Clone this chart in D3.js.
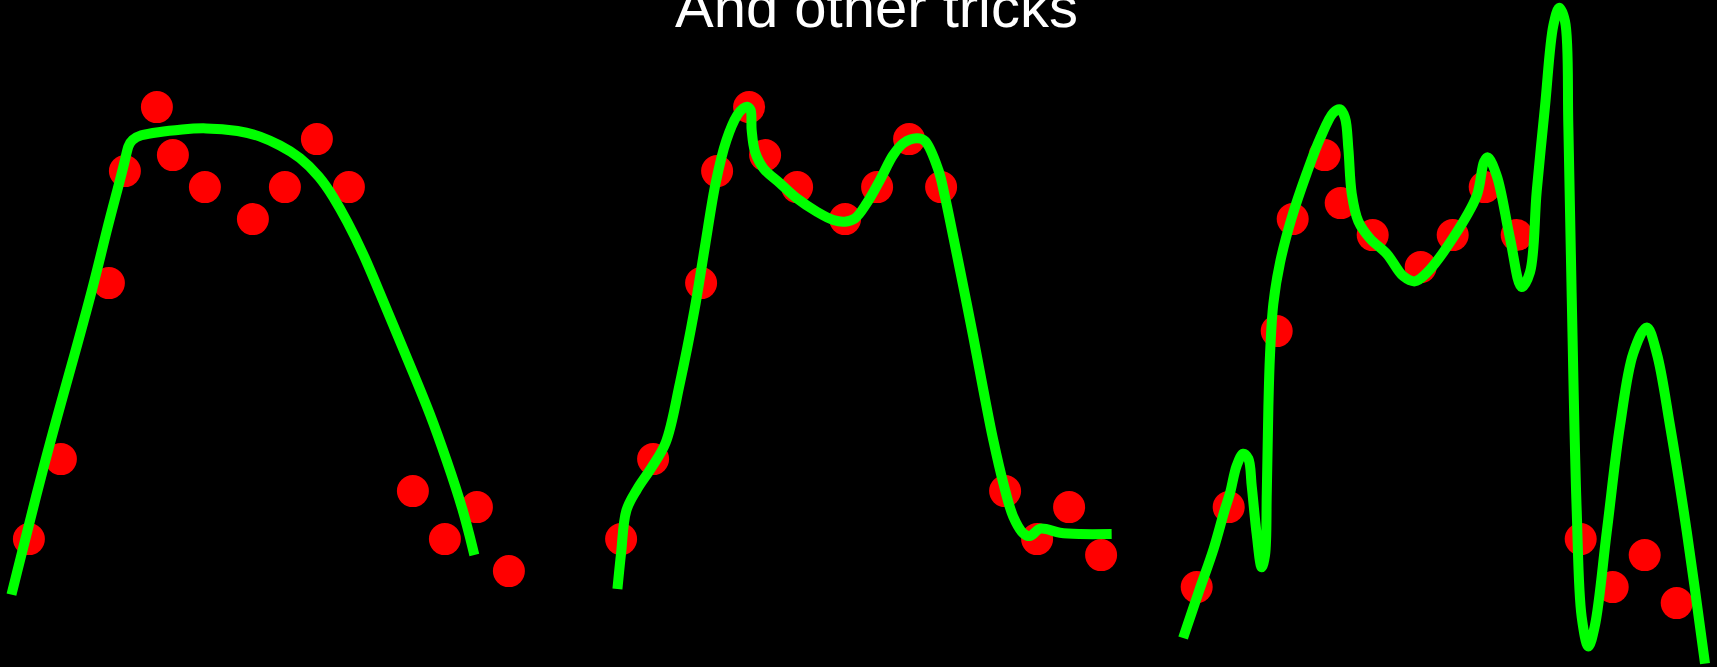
<!DOCTYPE html>
<html>
<head>
<meta charset="utf-8">
<script src="https://cdn.jsdelivr.net/npm/d3@7"></script>
<style>
  html, body { margin: 0; padding: 0; background: #000; overflow: hidden; }
  svg { display: block; }
</style>
</head>
<body>
<svg id="chart" width="1717" height="667"></svg>
<script>
// ---- data ----
const titleText = "And other tricks";

// sample x positions (shared by all three panels)
const pointX = [0, 2, 5, 6, 8, 9, 11, 14, 16, 18, 20, 24, 26, 28, 30];
// sample y values per panel
const panel1Y = [4, 9, 20, 27, 31, 28, 26, 24, 26, 29, 26, 7, 4, 6, 2];
const panel2Y = [4, 9, 20, 27, 31, 28, 26, 24, 26, 29, 26, 7, 4, 6, 3];
const panel3Y = [1, 6, 17, 24, 28, 25, 23, 21, 23, 26, 23, 4, 1, 3, 0];

// fitted curves
const curve1X = [-1.09, 1.01, 2.59, 4.13, 4.86, 5.59, 6.01, 6.21, 6.43, 6.94, 7.99, 9.65, 10.91, 13.23, 14.44, 15.69, 16.94, 18.19, 19.03, 19.86, 20.90, 21.94, 22.99, 24.03, 25.07, 26.11, 27.15, 27.84];
const curve1Y = [0.53, 8.98, 14.57, 20.19, 23.32, 26.03, 27.69, 28.63, 28.94, 29.26, 29.43, 29.61, 29.72, 29.53, 29.19, 28.63, 27.90, 26.65, 25.40, 23.94, 21.86, 19.36, 16.86, 14.36, 11.86, 8.94, 5.82, 3.01];

const curve2X = [-0.23, 0, 0.33, 1.0, 1.89, 2.79, 3.68, 4.58, 5.24, 5.91, 6.58, 7.25, 7.62, 7.87, 8.09, 8.16, 8.37, 8.89, 9.93, 10.98, 12.23, 13.26, 13.99, 14.62, 15.35, 16.18, 17.01, 17.64, 18.48, 18.99, 19.83, 20.24, 20.76, 21.39, 22.01, 22.64, 23.26, 23.89, 24.51, 25.14, 25.56, 26.20, 27.43, 28.68, 30.66];
const curve2Y = [0.88, 3.13, 5.79, 7.12, 8.45, 10.04, 13.77, 18.29, 22.28, 26.26, 28.92, 30.48, 30.91, 31.02, 30.82, 29.57, 28.21, 27.18, 26.24, 25.30, 24.46, 23.94, 23.84, 24.05, 24.99, 26.44, 28.01, 28.74, 29.05, 28.88, 27.07, 25.40, 22.90, 19.78, 16.65, 13.32, 10.19, 7.49, 5.40, 4.36, 4.19, 4.65, 4.40, 4.32, 4.32];

const curve3X = [-0.85, 0.14, 1.06, 1.74, 2.08, 2.50, 2.91, 3.23, 3.44, 3.75, 4.06, 4.27, 4.38, 4.48, 4.58, 4.79, 5.21, 5.94, 6.88, 7.71, 8.54, 8.96, 9.27, 9.48, 9.69, 10.10, 10.83, 11.88, 12.91, 13.64, 14.38, 16.01, 17.50, 17.96, 18.19, 18.76, 19.58, 20.31, 20.83, 21.25, 21.77, 22.29, 22.66, 23.02, 23.23, 23.44, 23.75, 24.06, 24.48, 24.89, 25.63, 26.46, 27.29, 28.13, 28.75, 29.58, 30.63, 31.77];
const curve3Y = [-2.18, 0.74, 3.40, 5.79, 6.87, 8.59, 9.34, 9.02, 7.30, 4.29, 2.24, 2.99, 6.87, 12.25, 15.48, 18.71, 21.29, 24.09, 26.88, 29.04, 30.65, 30.86, 30.33, 28.39, 25.59, 23.87, 22.79, 21.83, 20.43, 20.11, 20.64, 22.81, 25.46, 27.59, 27.86, 26.69, 22.81, 19.75, 20.68, 25.73, 31.05, 36.10, 37.21, 36.36, 29.72, 19.09, 5.79, -0.86, -2.71, -1.39, 4.46, 11.11, 15.63, 17.23, 15.63, 11.11, 4.46, -3.78];

// ---- drawing ----
const svg = d3.select("#chart");
svg.append("rect").attr("width", 1717).attr("height", 667).attr("fill", "#000");

const yScale = d3.scaleLinear().domain([0, 31]).range([603.1, 107.1]);

const panels = [
  { x0: 28.9,   pts: panel1Y, cx: curve1X, cy: curve1Y, curve: d3.curveBasis },
  { x0: 621.1,  pts: panel2Y, cx: curve2X, cy: curve2Y, curve: d3.curveCatmullRom.alpha(0.5) },
  { x0: 1196.7, pts: panel3Y, cx: curve3X, cy: curve3Y, curve: d3.curveCatmullRom.alpha(0.5) }
];

panels.forEach(p => {
  const xScale = d3.scaleLinear().domain([0, 30]).range([p.x0, p.x0 + 480]);
  const g = svg.append("g");
  g.selectAll("circle")
    .data(pointX.map((x, i) => ({ x, y: p.pts[i] })))
    .join("circle")
    .attr("cx", d => xScale(d.x))
    .attr("cy", d => yScale(d.y))
    .attr("r", 16)
    .attr("fill", "#ff0000");

  const line = d3.line()
    .x(d => xScale(d[0]))
    .y(d => yScale(d[1]))
    .curve(p.curve);

  g.append("path")
    .datum(p.cx.map((x, i) => [x, p.cy[i]]))
    .attr("d", line)
    .attr("fill", "none")
    .attr("stroke", "#00ff00")
    .attr("stroke-width", 10)
    .attr("stroke-linecap", "butt")
    .attr("stroke-linejoin", "round");
});

svg.append("text")
  .attr("x", 876.5)
  .attr("y", 26.5)
  .attr("text-anchor", "middle")
  .attr("fill", "#ffffff")
  .attr("font-family", "'Liberation Sans', Arial, Helvetica, sans-serif")
  .attr("font-size", 58)
  .text(titleText);
</script>
</body>
</html>
